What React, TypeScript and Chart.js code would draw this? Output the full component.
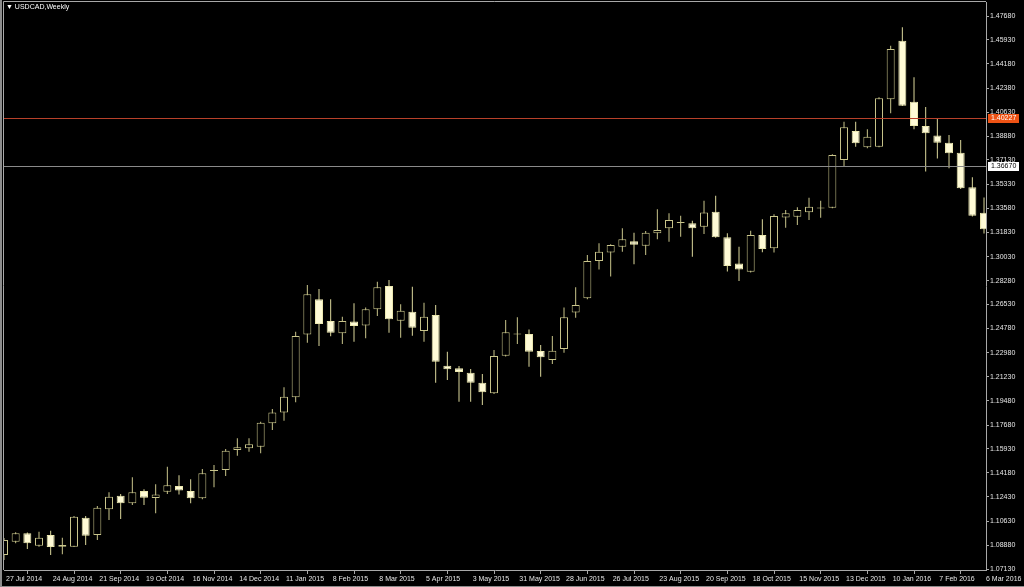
import React, { useEffect, useRef } from 'react';
import { Chart, registerables } from 'chart.js';

Chart.register(...registerables);

// Weekly USDCAD candles, first week starting 27 Jul 2014
const START_YEAR = 2014;
const START_MONTH = 6; // July (0-based)
const START_DAY = 27;
const MONTHS = ['Jan', 'Feb', 'Mar', 'Apr', 'May', 'Jun', 'Jul', 'Aug', 'Sep', 'Oct', 'Nov', 'Dec'];

const OPEN = [
  1.0816, 1.0913, 1.0975, 1.0884, 1.0962, 1.0876, 1.0877, 1.1089, 1.0962, 1.1151,
  1.1250, 1.1195, 1.1285, 1.1233, 1.1280, 1.1322, 1.1285, 1.1232, 1.1432, 1.1439,
  1.1586, 1.1598, 1.1610, 1.1781, 1.1860, 1.1972, 1.2433, 1.2691, 1.2532, 1.2442,
  1.2527, 1.2498, 1.2618, 1.2788, 1.2534, 1.2600, 1.2458, 1.2576, 1.2204, 1.2185,
  1.2153, 1.2079, 1.2001, 1.2277, 1.2432, 1.2436, 1.2312, 1.2245, 1.2326, 1.2593,
  1.2699, 1.2972, 1.3033, 1.3076, 1.3116, 1.3084, 1.3175, 1.3211, 1.3250, 1.3248,
  1.3223, 1.3333, 1.3145, 1.2954, 1.2893, 1.3162, 1.3065, 1.3291, 1.3296, 1.3329,
  1.3356, 1.3362, 1.3713, 1.3925, 1.3805, 1.3810, 1.4157, 1.4587, 1.4139, 1.3961,
  1.3891, 1.3839, 1.3766, 1.3512, 1.3326,
];
const HIGH = [
  1.0940, 1.0982, 1.0980, 1.0986, 1.0994, 1.0943, 1.1102, 1.1102, 1.1175, 1.1275,
  1.1263, 1.1385, 1.1297, 1.1334, 1.1463, 1.1400, 1.1371, 1.1446, 1.1476, 1.1593,
  1.1671, 1.1671, 1.1793, 1.1886, 1.2045, 1.2453, 1.2796, 1.2766, 1.2691, 1.2563,
  1.2661, 1.2630, 1.2820, 1.2832, 1.2654, 1.2783, 1.2666, 1.2649, 1.2306, 1.2202,
  1.2180, 1.2143, 1.2319, 1.2539, 1.2559, 1.2470, 1.2356, 1.2422, 1.2630, 1.2779,
  1.3016, 1.3101, 1.3094, 1.3211, 1.3179, 1.3191, 1.3351, 1.3321, 1.3304, 1.3267,
  1.3414, 1.3450, 1.3175, 1.3076, 1.3194, 1.3277, 1.3314, 1.3345, 1.3365, 1.3436,
  1.3414, 1.3754, 1.3993, 1.3993, 1.3937, 1.4172, 1.4550, 1.4685, 1.4318, 1.4100,
  1.4014, 1.3895, 1.3858, 1.3585, 1.3438,
];
const LOW = [
  1.0779, 1.0901, 1.0860, 1.0877, 1.0816, 1.0821, 1.0874, 1.0889, 1.0926, 1.1072,
  1.1080, 1.1182, 1.1182, 1.1121, 1.1263, 1.1260, 1.1195, 1.1224, 1.1312, 1.1395,
  1.1544, 1.1573, 1.1561, 1.1732, 1.1801, 1.1935, 1.2372, 1.2348, 1.2419, 1.2363,
  1.2380, 1.2405, 1.2568, 1.2446, 1.2409, 1.2424, 1.2380, 1.2079, 1.2099, 1.1940,
  1.1940, 1.1916, 1.1996, 1.2272, 1.2363, 1.2196, 1.2123, 1.2216, 1.2299, 1.2556,
  1.2691, 1.2910, 1.2857, 1.3040, 1.2947, 1.3016, 1.3131, 1.3113, 1.3150, 1.3003,
  1.3170, 1.3142, 1.2895, 1.2825, 1.2888, 1.3035, 1.3033, 1.3216, 1.3235, 1.3272,
  1.3289, 1.3358, 1.3664, 1.3810, 1.3798, 1.3805, 1.4055, 1.4108, 1.3937, 1.3627,
  1.3723, 1.3652, 1.3500, 1.3297, 1.3174,
];
const CLOSE = [
  1.0926, 1.0975, 1.0901, 1.0943, 1.0874, 1.0889, 1.1097, 1.0957, 1.1163, 1.1243,
  1.1195, 1.1275, 1.1236, 1.1260, 1.1327, 1.1288, 1.1232, 1.1415, 1.1439, 1.1580,
  1.1605, 1.1627, 1.1786, 1.1860, 1.1977, 1.2422, 1.2727, 1.2510, 1.2446, 1.2532,
  1.2495, 1.2618, 1.2779, 1.2544, 1.2607, 1.2482, 1.2563, 1.2233, 1.2178, 1.2158,
  1.2079, 1.2009, 1.2275, 1.2449, 1.2436, 1.2306, 1.2265, 1.2313, 1.2559, 1.2649,
  1.2972, 1.3040, 1.3089, 1.3131, 1.3091, 1.3179, 1.3199, 1.3272, 1.3254, 1.3211,
  1.3328, 1.3145, 1.2935, 1.2910, 1.3162, 1.3060, 1.3301, 1.3321, 1.3345, 1.3370,
  1.3360, 1.3749, 1.3952, 1.3835, 1.3883, 1.4165, 1.4526, 1.4110, 1.3961, 1.3908,
  1.3839, 1.3761, 1.3505, 1.3304, 1.3204,
];

const Y_TICKS = [
  1.07130, 1.08880, 1.10630, 1.12430, 1.14180, 1.15930, 1.17680, 1.19480, 1.21230, 1.22980,
  1.24780, 1.26530, 1.28280, 1.30030, 1.31830, 1.33580, 1.35330, 1.37130, 1.38880, 1.40630,
  1.42380, 1.44180, 1.45930, 1.47680,
];
const Y_MIN = 1.07057;
const Y_MAX = 1.48707;
const X_LABEL_STEP = 4;
const BID_LEVEL = 1.40227;
const H_LEVEL = 1.36670;

const DATES = OPEN.map((_, i) => {
  const d = new Date(Date.UTC(START_YEAR, START_MONTH, START_DAY + 7 * i));
  return `${d.getUTCDate()} ${MONTHS[d.getUTCMonth()]} ${d.getUTCFullYear()}`;
});

const BULL_LINE = '#c9c58b';
const BEAR_FILL = '#fffbd6';
const BEAR_LINE = '#ece8b0';
const AXIS = '#a8a8a8';
const TEXT = '#e6e6e6';
const FONT = { family: '"Liberation Sans", Arial, sans-serif', size: 7 };

export default function App() {
  const ref = useRef<HTMLCanvasElement>(null);

  useEffect(() => {
    document.body.style.margin = '0';
    document.body.style.background = '#000';
    const canvas = ref.current!;
    const isBear = (i: number) => CLOSE[i] < OPEN[i];

    const framePlugin = {
      id: 'frame',
      beforeDraw(chart: any) {
        const c = chart.ctx;
        c.save();
        c.fillStyle = '#000';
        c.fillRect(0, 0, chart.width, chart.height);
        c.fillStyle = '#8c8c8c';
        c.fillRect(0, 0, 2, chart.height);
        c.fillRect(0, chart.height - 1, chart.width, 1);
        c.restore();
      },
      afterDatasetsDraw(chart: any) {
        const c = chart.ctx;
        const a = chart.chartArea;
        const y = chart.scales.y;
        c.save();
        c.lineWidth = 1;
        c.strokeStyle = AXIS;
        c.beginPath();
        c.moveTo(a.left - 0.5, a.bottom);
        c.lineTo(a.left - 0.5, a.top - 0.5);
        c.lineTo(a.right, a.top - 0.5);
        c.stroke();
        const yb = Math.round(y.getPixelForValue(BID_LEVEL)) + 0.5;
        c.strokeStyle = '#b8412a';
        c.beginPath();
        c.moveTo(a.left, yb);
        c.lineTo(a.right, yb);
        c.stroke();
        const yh = Math.round(y.getPixelForValue(H_LEVEL)) + 0.5;
        c.strokeStyle = '#8a8a8a';
        c.beginPath();
        c.moveTo(a.left, yh);
        c.lineTo(a.right, yh);
        c.stroke();
        c.restore();
      },
      afterDraw(chart: any) {
        const c = chart.ctx;
        const a = chart.chartArea;
        const y = chart.scales.y;
        const box = (v: number, bg: string, fg: string) => {
          const py = Math.round(y.getPixelForValue(v));
          c.fillStyle = bg;
          c.fillRect(a.right + 2, py - 4, 31, 9);
          c.fillStyle = fg;
          c.font = `${FONT.size}px ${FONT.family}`;
          c.textBaseline = 'middle';
          c.textAlign = 'left';
          c.fillText(v.toFixed(5), a.right + 5, py + 0.5);
        };
        c.save();
        box(BID_LEVEL, '#ee5214', '#ffffff');
        box(H_LEVEL, '#ffffff', '#000000');
        c.restore();
      },
    };

    const chart = new Chart(canvas, {
      type: 'bar',
      data: {
        datasets: [
          {
            label: 'body',
            order: 0,
            data: OPEN.map((o, i) => ({ x: i, y: [o, CLOSE[i]] })) as any,
            backgroundColor: OPEN.map((_, i) => (isBear(i) ? BEAR_FILL : '#000000')),
            borderColor: OPEN.map((_, i) => (isBear(i) ? BEAR_LINE : BULL_LINE)),
            borderWidth: 1,
            borderSkipped: false,
            grouped: false,
            barPercentage: 1,
            categoryPercentage: 1,
            maxBarThickness: 8,
            minBarLength: 1,
            inflateAmount: 0,
          },
          {
            label: 'wick',
            order: 1,
            data: OPEN.map((_, i) => ({ x: i, y: [LOW[i], HIGH[i]] })) as any,
            backgroundColor: OPEN.map((_, i) => (isBear(i) ? '#dcd89c' : BULL_LINE)),
            borderWidth: 0,
            grouped: false,
            barPercentage: 1,
            categoryPercentage: 1,
            maxBarThickness: 1,
            inflateAmount: 0,
          },
        ],
      },
      options: {
        responsive: false,
        animation: false,
        devicePixelRatio: 1,
        events: [],
        layout: { padding: { left: 4, top: 2, right: 0, bottom: 0 } },
        plugins: { legend: { display: false }, tooltip: { enabled: false } },
        scales: {
          x: {
            type: 'linear',
            min: 0,
            max: 84.17,
            offset: false,
            grid: { display: true, drawOnChartArea: false, drawTicks: true, tickLength: 4, color: AXIS },
            border: { display: true, color: AXIS },
            afterBuildTicks: (axis: any) => {
              const t = [];
              for (let i = 0; i < DATES.length; i += X_LABEL_STEP) t.push({ value: i });
              axis.ticks = t;
            },
            afterFit: (axis: any) => {
              axis.height = 17;
              axis.paddingLeft = 0;
              axis.paddingRight = 0;
            },
            ticks: {
              autoSkip: false,
              maxRotation: 0,
              minRotation: 0,
              align: 'start',
              labelOffset: 2,
              padding: 1,
              color: TEXT,
              font: FONT,
              callback: (v: any) => DATES[Math.round(Number(v))] ?? '',
            },
          },
          y: {
            type: 'linear',
            position: 'right',
            min: Y_MIN,
            max: Y_MAX,
            grid: { display: true, drawOnChartArea: false, drawTicks: true, tickLength: 3, color: AXIS },
            border: { display: true, color: AXIS },
            afterBuildTicks: (axis: any) => {
              axis.ticks = Y_TICKS.map((v) => ({ value: v }));
            },
            afterFit: (axis: any) => {
              axis.width = 38;
              axis.paddingTop = 0;
              axis.paddingBottom = 0;
            },
            ticks: {
              padding: 1,
              color: TEXT,
              font: FONT,
              callback: (v: any) => Number(v).toFixed(5),
            },
          },
        },
      } as any,
      plugins: [framePlugin],
    });
    return () => chart.destroy();
  }, []);

  return (
    <div style={{ position: 'relative', width: 1024, height: 587, background: '#000', overflow: 'hidden' }}>
      <canvas ref={ref} width={1024} height={587} style={{ display: 'block' }} />
      <div
        style={{
          position: 'absolute',
          left: 6,
          top: 2,
          color: '#ffffff',
          fontFamily: '"Liberation Sans", Arial, sans-serif',
          fontSize: 7,
          lineHeight: '9px',
          whiteSpace: 'nowrap',
        }}
      >
        ▼ USDCAD,Weekly
      </div>
    </div>
  );
}
